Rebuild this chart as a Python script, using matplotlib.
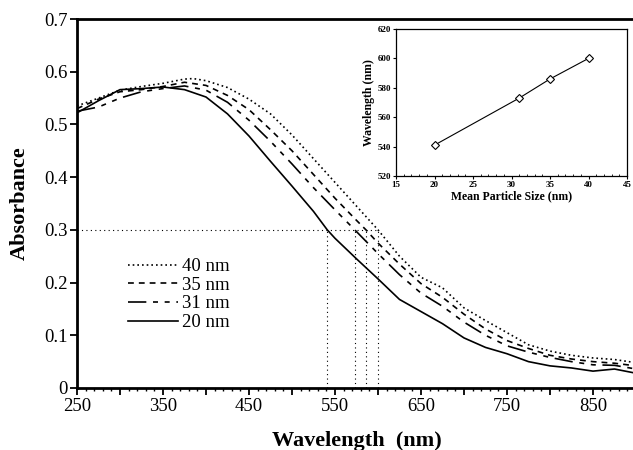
import matplotlib
matplotlib.use("Agg")
import matplotlib.pyplot as plt
from matplotlib.ticker import MultipleLocator
import numpy as np

plt.rcParams['font.family'] = ['Liberation Serif', 'DejaVu Serif']

# ---- data ----
wl_20 = [250, 275, 300, 325, 350, 375, 400, 425, 450, 475, 500, 525, 541, 550, 575, 600, 625, 650, 675, 700, 725, 750, 775, 800, 825, 850, 875, 900]
ab_20 = [0.522, 0.545, 0.566, 0.568, 0.571, 0.566, 0.552, 0.520, 0.478, 0.430, 0.383, 0.335, 0.300, 0.284, 0.245, 0.207, 0.168, 0.145, 0.122, 0.095, 0.077, 0.065, 0.050, 0.042, 0.038, 0.032, 0.036, 0.028]

wl_31 = [250, 275, 300, 325, 350, 375, 400, 425, 450, 475, 500, 525, 550, 573, 600, 625, 650, 675, 700, 725, 750, 775, 800, 825, 850, 875, 900]
ab_31 = [0.525, 0.533, 0.550, 0.562, 0.568, 0.573, 0.565, 0.542, 0.508, 0.468, 0.425, 0.380, 0.338, 0.300, 0.255, 0.215, 0.180, 0.155, 0.125, 0.100, 0.080, 0.068, 0.058, 0.050, 0.044, 0.043, 0.036]

wl_35 = [250, 275, 300, 325, 350, 375, 400, 425, 450, 475, 500, 525, 550, 575, 586, 600, 625, 650, 675, 700, 725, 750, 775, 800, 825, 850, 875, 900]
ab_35 = [0.530, 0.548, 0.562, 0.566, 0.572, 0.580, 0.574, 0.555, 0.528, 0.490, 0.450, 0.405, 0.360, 0.318, 0.300, 0.275, 0.235, 0.198, 0.172, 0.140, 0.112, 0.090, 0.075, 0.062, 0.055, 0.050, 0.047, 0.042]

wl_40 = [250, 275, 300, 325, 350, 375, 385, 400, 425, 450, 475, 500, 525, 550, 575, 600, 625, 650, 675, 700, 725, 750, 775, 800, 825, 850, 875, 900]
ab_40 = [0.535, 0.550, 0.565, 0.572, 0.578, 0.586, 0.587, 0.583, 0.570, 0.548, 0.520, 0.480, 0.435, 0.390, 0.345, 0.300, 0.250, 0.210, 0.190, 0.152, 0.128, 0.105, 0.082, 0.070, 0.062, 0.057, 0.054, 0.048]

labels = ["40 nm", "35 nm", "31 nm", "20 nm"]

# inset data
size_nm = [20, 31, 35, 40]
peak_wl = [541, 573, 586, 600]
ref_abs = 0.3

fig = plt.figure(figsize=(6.33, 4.5), dpi=100)
ax = fig.add_axes([77/633, 62/450, 559/633, 369/450])

ax.plot(wl_40, ab_40, color='black', lw=1.2, ls=(0, (1, 1.8)), label=labels[0])
ax.plot(wl_35, ab_35, color='black', lw=1.2, ls=(0, (3.5, 3)), label=labels[1])
ax.plot(wl_31, ab_31, color='black', lw=1.2, ls=(0, (11, 4, 3, 4, 3, 4)), label=labels[2])
ax.plot(wl_20, ab_20, color='black', lw=1.2, ls='-', label=labels[3])

# guide lines
ax.plot([250, max(peak_wl)], [ref_abs, ref_abs], color='black', lw=0.8, ls=(0, (1, 3)))
for w in peak_wl:
    ax.plot([w, w], [0, ref_abs], color='black', lw=0.8, ls=(0, (1, 3)))

ax.set_xlim(250, 900)
ax.set_ylim(0, 0.7)
ax.xaxis.set_minor_locator(MultipleLocator(10))
ax.set_xticks(np.arange(250, 901, 50))
ax.set_xticklabels([str(v) if (v - 250) % 100 == 0 else '' for v in range(250, 901, 50)])
ax.set_yticks(np.arange(0, 0.71, 0.1))
ax.set_yticklabels(['0', '0.1', '0.2', '0.3', '0.4', '0.5', '0.6', '0.7'])
ax.tick_params(axis='both', which='major', direction='out', length=5, width=1.3, labelsize=13.5, pad=2)
ax.tick_params(axis='x', which='minor', direction='out', length=2.5, width=1.0)
for s in ['left', 'bottom', 'top']:
    ax.spines[s].set_linewidth(2)
ax.spines['right'].set_visible(False)
ax.set_xlabel('Wavelength  (nm)', fontsize=16, fontweight='bold', labelpad=12)
ax.set_ylabel('Absorbance', fontsize=16, fontweight='bold', labelpad=10)

leg = ax.legend(loc='upper left', bbox_to_anchor=(0.091, 0.352), frameon=False,
                fontsize=13.5, handlelength=2.7, handletextpad=0.2, labelspacing=0.08,
                borderpad=0, borderaxespad=0)

# inset
ins = fig.add_axes([396/633, 274/450, 231/633, 147/450])
ins.plot(size_nm, peak_wl, color='black', lw=0.8, marker='D', markersize=4.5,
         markerfacecolor='white', markeredgecolor='black', markeredgewidth=0.8)
ins.set_xlim(15, 45)
ins.set_ylim(520, 620)
ins.set_xticks(np.arange(15, 46, 5))
ins.set_yticks(np.arange(520, 621, 20))
ins.xaxis.set_minor_locator(MultipleLocator(1))
ins.tick_params(axis='both', which='major', direction='out', length=2.5, width=0.8, labelsize=6.5, pad=1)
ins.tick_params(axis='x', which='minor', direction='in', length=1.5, width=0.6)
for lab in ins.get_xticklabels() + ins.get_yticklabels():
    lab.set_fontweight('bold')
for s in ins.spines.values():
    s.set_linewidth(0.9)
ins.set_xlabel('Mean Particle Size (nm)', fontsize=8.5, fontweight='bold', labelpad=1)
ins.set_ylabel('Wavelength (nm)', fontsize=8.5, fontweight='bold', labelpad=2)

fig.savefig('out.png', dpi=100)
